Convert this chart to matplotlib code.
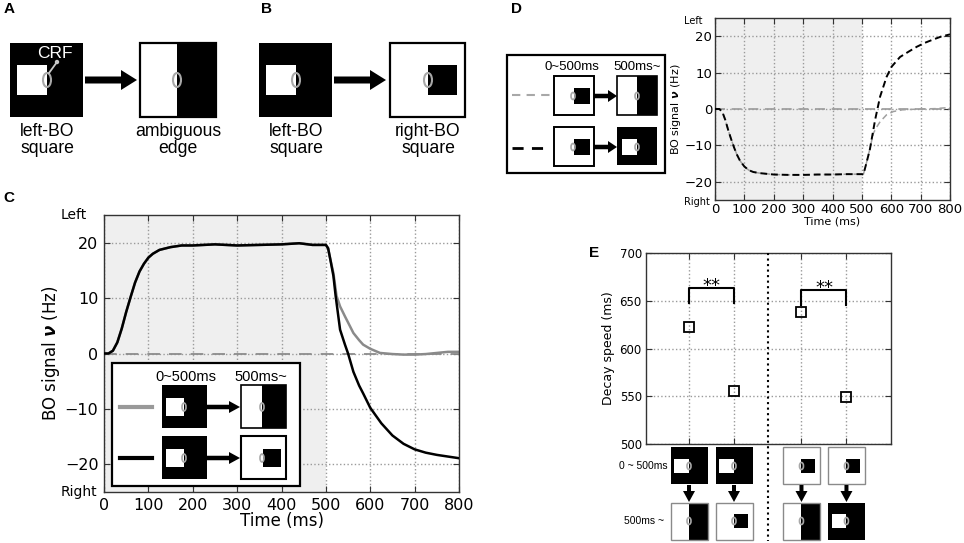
import numpy as np
import matplotlib
matplotlib.use("Agg")
import matplotlib.pyplot as plt
from matplotlib.patches import Rectangle, Ellipse, Polygon, Circle

# ---------------- data ----------------
# Panel C: BO signal (Hz) vs time (ms)
c_time_early = [0, 10, 20, 30, 40, 50, 60, 70, 80, 90, 100, 110, 125, 150, 175, 200,
                250, 300, 350, 400, 440, 470, 500]
c_val_early = [0, 0, 0.5, 2, 4.5, 7.5, 10.2, 12.8, 14.8, 16.2, 17.3, 18, 18.7, 19.2, 19.5, 19.5,
               19.7, 19.5, 19.6, 19.7, 19.9, 19.6, 19.6]
c_time_black_late = [505, 510, 517, 522, 532, 543, 550, 562, 575, 584, 600, 625, 650, 675,
                     700, 725, 750, 775, 800]
c_black_late = [19, 17, 14, 10.4, 4.3, 1.6, 0, -3.3, -5.8, -7.2, -9.8, -12.6, -14.8, -16.3,
                -17.3, -17.9, -18.3, -18.6, -18.9]
c_time_gray_late = [505, 510, 517, 524, 532, 543, 550, 562, 575, 584, 600, 622, 650, 675,
                    700, 725, 750, 775, 800]
c_gray_late = [19, 17, 14.5, 10.4, 8.5, 6.7, 5.6, 3.7, 2.4, 1.6, 0.85, 0.1, -0.1, -0.2,
               -0.2, -0.1, 0.1, 0.3, 0.3]

# Panel D
d_time_early = [0, 15, 25, 35, 45, 55, 65, 75, 85, 100, 115, 130, 150, 200, 250, 300,
                350, 400, 450, 500, 505]
d_val_early = [0, 0, -0.8, -3, -5.8, -8.3, -10.6, -12.6, -14.2, -15.8, -16.8, -17.3, -17.6,
               -18, -18.1, -18.1, -18, -18, -17.9, -17.9, -18]
d_time_black_late = [515, 527, 545, 562, 584, 601, 630, 660, 687, 715, 743, 770, 800]
d_black_late = [-15, -11.2, -3, 3.4, 8.8, 11.6, 14.3, 15.8, 17.1, 18.2, 19.1, 19.9, 20.5]
d_time_gray_late = [515, 527, 539, 550, 562, 584, 607, 640, 700, 750, 780, 800]
d_gray_late = [-15, -11, -6.7, -5, -3.5, -1.6, -0.7, -0.2, 0, 0.1, 0.3, 0.3]

# Panel E: decay speed (ms)
e_positions = [1, 2, 3.5, 4.5]
e_values = [622, 555, 638, 549]

time_ticks = [0, 100, 200, 300, 400, 500, 600, 700, 800]
bo_ticks = [-20, -10, 0, 10, 20]
e_ticks = [500, 550, 600, 650, 700]

ARIAL = "Liberation Sans"
GRID = dict(color="#9a9a9a", linestyle=":", linewidth=1.0)

fig = plt.figure(figsize=(9.64, 5.43), dpi=100)
W, H = 964, 543


def frac(x0, y0, x1, y1):
    return [x0 / W, 1 - y1 / H, (x1 - x0) / W, (y1 - y0) / H]


def style_axes(ax, labelsize, pad):
    ax.tick_params(direction="in", length=4, top=True, right=True,
                   labelsize=labelsize, pad=pad, color="#333333")
    for s in ax.spines.values():
        s.set_color("#333333")
        s.set_linewidth(1.0)
    ax.grid(True, **GRID)
    ax.set_axisbelow(True)


# ---------------- Panel C ----------------
axC = fig.add_axes(frac(104, 215, 459, 492))
axC.axvspan(0, 500, color="#efefef", zorder=0, lw=0)
axC.axhline(0, color="#8c8c8c", lw=1.3, dashes=(7, 5), zorder=1)
axC.plot(c_time_early + c_time_gray_late, c_val_early + c_gray_late, color="#8a8a8a", lw=1.8, zorder=2)
axC.plot(c_time_early + c_time_black_late, c_val_early + c_black_late, color="black", lw=1.8, zorder=3)
axC.set_xlim(0, 800)
axC.set_ylim(-25, 25)
axC.set_xticks(time_ticks)
axC.set_yticks(bo_ticks)
style_axes(axC, 11.5, 4)
axC.set_xlabel("Time (ms)", fontsize=12)
axC.xaxis.set_label_coords(0.5, -0.072)
axC.set_ylabel(r"BO signal $\boldsymbol{\nu}$ (Hz)", fontsize=12)
axC.yaxis.set_label_coords(-0.118, 0.5)
axC.text(-0.048, 1.0, "Left", transform=axC.transAxes, ha="right", va="center", fontsize=10)
axC.text(-0.02, 0.0, "Right", transform=axC.transAxes, ha="right", va="center", fontsize=10)

# ---------------- Panel D ----------------
axD = fig.add_axes(frac(715, 18, 950, 200))
axD.axvspan(0, 500, color="#efefef", zorder=0, lw=0)
axD.axhline(0, color="#9a9a9a", lw=1.2, dashes=(6, 4), zorder=1)
axD.plot(d_time_early + d_time_gray_late, d_val_early + d_gray_late, color="#a0a0a0",
         lw=1.1, dashes=(4, 2.5), zorder=2)
axD.plot(d_time_early + d_time_black_late, d_val_early + d_black_late, color="black",
         lw=1.4, dashes=(3.5, 2), zorder=3)
axD.set_xlim(0, 800)
axD.set_ylim(-25, 25)
axD.set_xticks(time_ticks)
axD.set_yticks(bo_ticks)
style_axes(axD, 9.5, 2)
axD.set_xlabel("Time (ms)", fontsize=8)
axD.xaxis.set_label_coords(0.5, -0.088)
axD.set_ylabel(r"BO signal $\boldsymbol{\nu}$ (Hz)", fontsize=8)
axD.yaxis.set_label_coords(-0.135, 0.5)
axD.text(-0.055, 0.985, "Left", transform=axD.transAxes, ha="right", va="center", fontsize=7)
axD.text(-0.02, -0.01, "Right", transform=axD.transAxes, ha="right", va="center", fontsize=7)

# ---------------- Panel E ----------------
axE = fig.add_axes(frac(646, 253, 891, 444))
axE.plot(e_positions, e_values, ls="none", marker="s", ms=7, mfc="none", mec="black", mew=1.3, zorder=3)
axE.set_xlim(0.044, 5.49)
axE.set_ylim(500, 700)
axE.set_xticks(e_positions)
axE.set_xticklabels([""] * len(e_positions))
axE.set_yticks(e_ticks)
style_axes(axE, 8.5, 3)
axE.set_ylabel("Decay speed (ms)", fontsize=9)
axE.yaxis.set_label_coords(-0.127, 0.5)
for (a, b), top in [((e_positions[0], e_positions[1]), 663), ((e_positions[2], e_positions[3]), 661)]:
    axE.plot([a, a, b, b], [top - 15, top, top, top - 15], color="black", lw=1.5, zorder=4)
    axE.text((a + b) / 2, top - 7, "**", ha="center", va="bottom", fontsize=13)

# ---------------- overlay (schematic drawings) ----------------
ov = fig.add_axes([0, 0, 1, 1], zorder=10)
ov.set_xlim(0, W)
ov.set_ylim(H, 0)
ov.axis("off")
ov.patch.set_alpha(0)


def rect(x0, y0, x1, y1, fc, ec="none", lw=0.0, z=1):
    ov.add_patch(Rectangle((x0, y0), x1 - x0, y1 - y0, facecolor=fc, edgecolor=ec, lw=lw, zorder=z))


def ell(cx, cy, w, h, lw=1.2):
    ov.add_patch(Ellipse((cx, cy), w, h, fill=False, edgecolor="#a8a8a8", lw=lw, zorder=5))


def harrow(x0, x1, y, stem, hh, hl):
    pts = [(x0, y - stem / 2), (x1 - hl, y - stem / 2), (x1 - hl, y - hh / 2), (x1, y),
           (x1 - hl, y + hh / 2), (x1 - hl, y + stem / 2), (x0, y + stem / 2)]
    ov.add_patch(Polygon(pts, closed=True, facecolor="black", edgecolor="none", zorder=4))


def varrow(x, y0, y1, stem, hw, hl):
    pts = [(x - stem / 2, y0), (x - stem / 2, y1 - hl), (x - hw / 2, y1 - hl), (x, y1),
           (x + hw / 2, y1 - hl), (x + stem / 2, y1 - hl), (x + stem / 2, y0)]
    ov.add_patch(Polygon(pts, closed=True, facecolor="black", edgecolor="none", zorder=4))


def ptext(x, y, s, size=10.5, **kw):
    ov.text(x, y, s, ha="center", va="center", fontsize=size, family=ARIAL, **kw)


# panel letters
for lx, ly, lt in [(9, 9, "A"), (266, 9, "B"), (9, 198, "C"), (517, 9, "D"), (594, 253, "E")]:
    ov.text(lx, ly, lt, ha="center", va="center", fontsize=11, fontweight="bold", family=ARIAL)

# Panel A
rect(10, 43, 83, 117, "black")
rect(17, 65, 47, 95, "white")
ell(47, 80, 8, 14, 1.5)
ov.plot([49, 57], [73, 62], color="#c8c8c8", lw=1.3, zorder=6)
ov.add_patch(Circle((57, 62), 2.2, facecolor="#c8c8c8", edgecolor="none", zorder=6))
ptext(55, 54, "CRF", 12.5, color="white")
harrow(85, 137, 80, 7, 20, 16)
rect(140, 43, 177, 117, "white")
rect(177, 43, 216, 117, "black")
rect(140, 43, 216, 117, "none", "black", 1.6, 3)
ell(177, 80, 8, 14, 1.5)
ptext(47, 140, "left-BO\nsquare", 12.7, linespacing=0.95)
ptext(178, 140, "ambiguous\nedge", 12.7, linespacing=0.95)

# Panel B
rect(259, 43, 332, 117, "black")
rect(266, 65, 296, 95, "white")
ell(296, 80, 8, 14, 1.5)
harrow(334, 386, 80, 7, 20, 16)
rect(390, 43, 465, 117, "white", "black", 1.6)
rect(428, 65, 457, 95, "black", z=2)
ell(428, 80, 8, 14, 1.5)
ptext(296, 140, "left-BO\nsquare", 12.7, linespacing=0.95)
ptext(428, 140, "right-BO\nsquare", 12.7, linespacing=0.95)

# Panel C legend
rect(112, 363, 300, 486, "white", "black", 1.6, 1)
ptext(186, 377, "0~500ms", 10.5)
ptext(261, 377, "500ms~", 10.5)
ov.plot([120, 152], [407, 407], color="#999999", lw=3, zorder=3)
ov.plot([120, 152], [458, 458], color="black", lw=3, zorder=3)
for yy in (385, 436):
    rect(162, yy, 207, yy + 43, "black", z=2)
    rect(166, yy + 13, 184, yy + 31, "white", z=3)
    ell(184, yy + 22, 4, 8)
    harrow(207, 240, yy + 22, 4.5, 12, 11)
rect(241, 385, 262, 428, "white", z=2)
rect(262, 385, 286, 428, "black", z=2)
rect(241, 385, 286, 428, "none", "black", 1.2, 3)
ell(262, 407, 4, 8)
rect(241, 436, 286, 479, "white", "black", 1.5, 2)
rect(263, 449, 281, 467, "black", z=3)
ell(262, 458, 4, 8)

# Panel D legend
rect(507, 55, 665, 173, "white", "black", 1.6, 1)
ptext(572, 67, "0~500ms", 9.5)
ptext(637, 67, "500ms~", 9.5)
ov.plot([512, 550], [95, 95], color="#a8a8a8", lw=1.5, dashes=(4, 3), zorder=3)
ov.plot([512, 550], [148, 148], color="black", lw=2, dashes=(4, 3), zorder=3)
for yy in (76, 127):
    rect(554, yy, 594, yy + 39, "white", "black", 1.4, 2)
    rect(574, yy + 12, 590, yy + 28, "black", z=3)
    ell(573, yy + 20, 4, 7)
    harrow(594, 617, yy + 20, 4.5, 12, 9)
rect(617, 76, 637, 115, "white", z=2)
rect(637, 76, 657, 115, "black", z=2)
rect(617, 76, 657, 115, "none", "black", 1.2, 3)
ell(637, 96, 4, 7)
rect(617, 127, 657, 165, "black", z=2)
rect(622, 139, 637, 155, "white", z=3)
ell(637, 147, 4, 7)

# Panel E stimulus icons (x positions follow the category positions of axE)
fig.canvas.draw()
cxs = [axE.transData.transform((p, 600))[0] for p in e_positions]
xdiv = axE.transData.transform((2.75, 600))[0]
ov.plot([xdiv, xdiv], [253, 541], color="black", lw=1.5, ls=":", zorder=2)
ptext(643, 466, "0 ~ 500ms", 7.5)
ptext(644, 521, "500ms ~", 7.5)
GB = "#8a8a8a"
for i, cx in enumerate(cxs):
    # 0~500 ms row
    if i < 2:
        rect(cx - 18, 447, cx + 19, 484, "black", z=2)
        rect(cx - 15, 459, cx, 473, "white", z=3)
    else:
        rect(cx - 18, 447, cx + 19, 484, "white", GB, 1.0, 2)
        rect(cx, 459, cx + 14, 473, "black", z=3)
    ell(cx, 466, 4, 7)
    varrow(cx, 485, 502, 4, 12, 11)
    # 500 ms~ row
    if i in (0, 2):
        rect(cx - 18, 503, cx, 540, "white", z=2)
        rect(cx, 503, cx + 19, 540, "black", z=2)
        rect(cx - 18, 503, cx + 19, 540, "none", GB, 1.0, 3)
    elif i == 1:
        rect(cx - 18, 503, cx + 19, 540, "white", GB, 1.0, 2)
        rect(cx, 514, cx + 14, 528, "black", z=3)
    else:
        rect(cx - 18, 503, cx + 19, 540, "black", z=2)
        rect(cx - 14, 514, cx, 528, "white", z=3)
    ell(cx, 521, 4, 7)

fig.savefig("out.png", dpi=100)
